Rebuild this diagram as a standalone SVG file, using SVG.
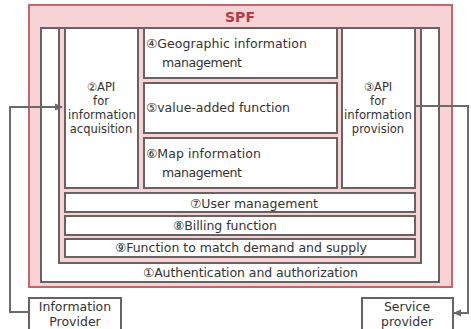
<svg xmlns="http://www.w3.org/2000/svg" width="471" height="329" viewBox="0 0 471 329">
<style>
.box{fill:#fff;stroke:#6a6262;stroke-width:2}
.t{font-family:"DejaVu Sans",Verdana,sans-serif;font-size:12.5px;fill:#333}
.a{font-family:"DejaVu Sans",Verdana,sans-serif;font-size:11.5px;fill:#333;text-anchor:middle}
.m{text-anchor:middle}
.c{fill:none;stroke:#6a6a6a;stroke-width:2}
</style>
<defs>
<marker id="ah" markerWidth="8" markerHeight="8" refX="7" refY="4" orient="auto" markerUnits="userSpaceOnUse">
<path d="M0,0.5 L8,4 L0,7.5 Z" fill="#6a6a6a"/>
</marker>
</defs>
<g id="spf">
<rect x="29" y="5" width="423" height="282" fill="#f8d3d6" stroke="#c8646c" stroke-width="2"/>
<text x="240" y="22" class="m" style="font-family:'DejaVu Sans',Verdana,sans-serif;font-size:14px;font-weight:bold;fill:#b33c48">SPF</text>
</g>
<g id="auth">
<rect x="41" y="28" width="398" height="254" class="box"/>
<text x="143" y="277" class="t" textLength="215" lengthAdjust="spacing">①Authentication and authorization</text>
</g>
<g id="inner">
<rect x="59" y="28" width="362" height="235" fill="#f8d3d6" stroke="#6a6262" stroke-width="2"/>
</g>
<g id="api-acq">
<rect x="65" y="28" width="73" height="160" class="box"/>
<text class="a" x="101" y="91">②API</text>
<text class="a" x="101" y="105">for</text>
<text class="a" x="102" y="119" textLength="68" lengthAdjust="spacingAndGlyphs">information</text>
<text class="a" x="101" y="133">acquisition</text>
</g>
<g id="geo">
<rect x="144" y="28" width="193" height="50" class="box"/>
<text class="t" x="146" y="48" textLength="161" lengthAdjust="spacing">④Geographic information</text>
<text class="t" x="162" y="67" textLength="80" lengthAdjust="spacing">management</text>
</g>
<g id="value">
<rect x="144" y="83" width="193" height="50" class="box"/>
<text class="t" x="146" y="112" textLength="144" lengthAdjust="spacing">⑤value-added function</text>
</g>
<g id="map">
<rect x="144" y="138" width="193" height="50" class="box"/>
<text class="t" x="146" y="158" textLength="115" lengthAdjust="spacing">⑥Map information</text>
<text class="t" x="162" y="177" textLength="80" lengthAdjust="spacing">management</text>
</g>
<g id="api-prov">
<rect x="342" y="28" width="73" height="160" class="box"/>
<text class="a" x="378" y="91">③API</text>
<text class="a" x="378" y="105">for</text>
<text class="a" x="378" y="119" textLength="68" lengthAdjust="spacingAndGlyphs">information</text>
<text class="a" x="378" y="133">provision</text>
</g>
<g id="user">
<rect x="65" y="193" width="350" height="19" class="box"/>
<text class="t" x="190" y="208" textLength="128" lengthAdjust="spacing">⑦User management</text>
</g>
<g id="billing">
<rect x="65" y="216" width="350" height="19" class="box"/>
<text class="t" x="173" y="230" textLength="104" lengthAdjust="spacing">⑧Billing function</text>
</g>
<g id="match">
<rect x="65" y="239" width="350" height="18" class="box"/>
<text class="t" x="115" y="252" textLength="252" lengthAdjust="spacing">⑨Function to match demand and supply</text>
</g>
<g id="info-provider">
<rect x="29" y="298" width="92" height="34" class="box" stroke-width="1.5"/>
<text class="t m" x="75" y="311">Information</text>
<text class="t m" x="75" y="326">Provider</text>
</g>
<g id="service-provider">
<rect x="362" y="298" width="91" height="34" class="box" stroke-width="1.5"/>
<text class="t m" x="407" y="311">Service</text>
<text class="t m" x="407" y="326">provider</text>
</g>
<g id="connectors">
<path class="c" d="M29,312 H10 V107 H62" marker-end="url(#ah)"/>
<path class="c" d="M415,106 H468 V313 H454" marker-end="url(#ah)"/>
</g>
</svg>
